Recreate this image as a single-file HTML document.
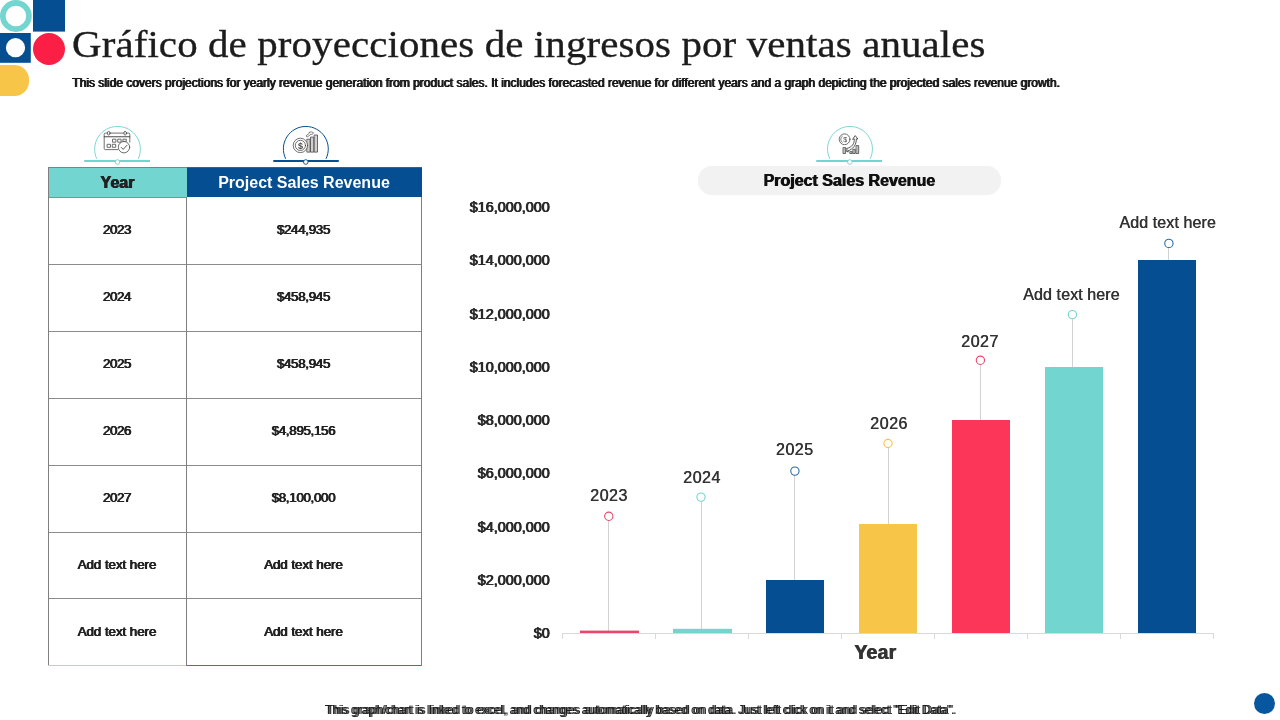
<!DOCTYPE html>
<html lang="es">
<head>
<meta charset="utf-8">
<title>Gráfico de proyecciones de ingresos por ventas anuales</title>
<style>
*{margin:0;padding:0;box-sizing:border-box}
html,body{width:1280px;height:720px;overflow:hidden;background:#fff}
body{position:relative;font-family:"Liberation Sans",sans-serif;color:#222}
.abs{position:absolute}
.t{position:absolute;white-space:nowrap;line-height:1}
#title{left:71.5px;top:26.2px;font-family:"Liberation Serif",serif;font-size:37.5px;color:#1c1c1c;letter-spacing:0.1px;transform-origin:0 0;transform:scaleX(1.091);-webkit-text-stroke:0.35px #1c1c1c}
#sub{left:71.8px;top:76.7px;font-size:12px;color:#1a1a1a;text-shadow:0.55px 0 0 #1a1a1a,1.1px 0 0 #1a1a1a;transform-origin:0 86%;transform:scaleY(1.07)}
#foot{left:324.8px;top:704px;font-size:12px;color:#1a1a1a;text-shadow:1.15px 0 0 #555,2.3px 0 0 #1a1a1a;transform-origin:0 86%;transform:scaleY(1.05)}
/* table */
.cell{position:absolute;text-align:center;white-space:nowrap;font-size:13.33px;line-height:1;color:#222;text-shadow:0.5px 0 0 #222,1px 0 0 #222;letter-spacing:-0.05px}
.num{letter-spacing:-0.45px}
.usd{letter-spacing:-0.3px}
.hl{position:absolute;height:1px;background:#8c8c8c}
.vl{position:absolute;width:1px;background:#7f7f7f}
/* chart */
.yl{position:absolute;text-align:right;white-space:nowrap;font-size:14.4px;line-height:1;color:#2a2a2a;width:100px;left:449.3px;text-shadow:0.9px 0 0 #2a2a2a,0.4px 0 0 #2a2a2a}
.bl{position:absolute;text-align:center;white-space:nowrap;font-size:16px;line-height:1;color:#333;width:140px;text-shadow:0.5px 0 0 #333;letter-spacing:0.1px}
.bn{letter-spacing:0.5px}
</style>
</head>
<body>
<!-- corner logo -->
<svg class="abs" style="left:0;top:0" width="70" height="100" viewBox="0 0 70 100">
  <circle cx="15.9" cy="16" r="13.1" fill="#fff" stroke="#72D5D0" stroke-width="5.6"/>
  <rect x="33" y="0" width="32" height="31.6" fill="#044E91"/>
  <rect x="0" y="33" width="30.8" height="29.8" fill="#044E91"/>
  <circle cx="15.5" cy="47.7" r="9.6" fill="#fff"/>
  <circle cx="49" cy="49" r="16" fill="#FB1F45"/>
  <path d="M0 65 H14.5 A14.5 14.5 0 0 1 29 79.5 V81.5 A14.5 14.5 0 0 1 14.5 96 H0 Z" fill="#F7C548"/>
</svg>

<div id="title" class="t">Gráfico de proyecciones de ingresos por ventas anuales</div>
<div id="sub" class="t">This slide covers projections for yearly revenue generation from product sales. It includes forecasted revenue for different years and a graph depicting the projected sales revenue growth.</div>

<!-- TABLE -->
<div class="abs" style="left:48px;top:167px;width:139px;height:31px;background:#72D5D0"></div>
<div class="abs" style="left:187px;top:167px;width:235px;height:30px;background:#044E91"></div>
<div class="t" style="left:48px;width:138px;top:174.5px;text-align:center;font-weight:bold;font-size:16px;color:#222;text-shadow:0.5px 0 0 #222,1px 0 0 #222">Year</div>
<div class="t" style="left:187px;width:234px;top:174.5px;text-align:center;font-weight:bold;font-size:16px;color:#fff">Project Sales Revenue</div>

<!-- grid lines -->
<div class="hl" style="left:48px;top:167px;width:139px;background:#6b8a8a"></div>
<div class="hl" style="left:187px;top:167px;width:235px;background:#3f5f80"></div>
<div class="hl" style="left:48px;top:197px;width:139px"></div>
<div class="hl" style="left:48px;top:264px;width:374px"></div>
<div class="hl" style="left:48px;top:331px;width:374px"></div>
<div class="hl" style="left:48px;top:398px;width:374px"></div>
<div class="hl" style="left:48px;top:465px;width:374px"></div>
<div class="hl" style="left:48px;top:532px;width:374px"></div>
<div class="hl" style="left:48px;top:598px;width:374px"></div>
<div class="hl" style="left:48px;top:665px;width:139px;background:#9fdedb"></div>
<div class="hl" style="left:186px;top:665px;width:236px;background:#3f74a8"></div>
<div class="vl" style="left:48px;top:167px;height:498px"></div>
<div class="vl" style="left:186px;top:197px;height:469px"></div>
<div class="vl" style="left:421px;top:197px;height:469px"></div>

<!-- table text -->
<div class="cell num" style="left:48px;width:137px;top:223.1px">2023</div>
<div class="cell num usd" style="left:186px;width:234px;top:223.1px">$244,935</div>
<div class="cell num" style="left:48px;width:137px;top:290.1px">2024</div>
<div class="cell num usd" style="left:186px;width:234px;top:290.1px">$458,945</div>
<div class="cell num" style="left:48px;width:137px;top:357.1px">2025</div>
<div class="cell num usd" style="left:186px;width:234px;top:357.1px">$458,945</div>
<div class="cell num" style="left:48px;width:137px;top:424.1px">2026</div>
<div class="cell num usd" style="left:186px;width:234px;top:424.1px">$4,895,156</div>
<div class="cell num" style="left:48px;width:137px;top:491.1px">2027</div>
<div class="cell num usd" style="left:186px;width:234px;top:491.1px">$8,100,000</div>
<div class="cell" style="left:48px;width:137px;top:557.5px">Add text here</div>
<div class="cell" style="left:186px;width:234px;top:557.5px">Add text here</div>
<div class="cell" style="left:48px;width:137px;top:624.6px">Add text here</div>
<div class="cell" style="left:186px;width:234px;top:624.6px">Add text here</div>

<!-- ICONS -->
<svg class="abs" style="left:70px;top:115px" width="100" height="60" viewBox="70 115 100 60" fill="none">
  <path d="M96.74 158.8 A22.85 22.85 0 1 1 138.26 158.8" stroke="#6fd0cb" stroke-width="0.9"/>
  <line x1="84.2" y1="160.9" x2="150" y2="160.9" stroke="#72D5D0" stroke-width="2"/>
  <circle cx="117.5" cy="162" r="2.3" fill="#fff" stroke="#72D5D0" stroke-width="0.9"/>
  <g stroke="#4a4a4a" stroke-width="0.8" fill="none" stroke-linecap="round" stroke-linejoin="round">
    <path d="M117.6 149.6 H105.4 A1.2 1.2 0 0 1 104.2 148.4 V134.3 A1.2 1.2 0 0 1 105.4 133.1 H107.4 M110.1 133.1 H123.8 M126.5 133.1 H128.6 A1.2 1.2 0 0 1 129.8 134.3 V142.2"/>
    <path d="M104.2 136.7 H129.8" stroke-width="1.1"/>
    <ellipse cx="108.75" cy="133.2" rx="1.3" ry="1.9"/>
    <ellipse cx="125.15" cy="133.2" rx="1.3" ry="1.9"/>
    <rect x="112.9" y="139.2" width="3" height="3"/>
    <rect x="118.1" y="139.2" width="3" height="3"/>
    <rect x="123.3" y="139.2" width="3" height="2.2"/>
    <rect x="107.5" y="144.3" width="3" height="3"/>
    <rect x="112.7" y="144.3" width="3" height="3"/>
    <circle cx="124" cy="147.2" r="5.7" fill="#fff"/>
    <path d="M121.2 147.4 L123.2 149.4 L127 145.2" stroke-width="0.9"/>
  </g>
</svg>
<svg class="abs" style="left:255px;top:115px" width="100" height="60" viewBox="255 115 100 60" fill="none">
  <path d="M285.68 158.8 A22.45 22.45 0 1 1 325.98 158.8" stroke="#044E91" stroke-width="1"/>
  <line x1="273.3" y1="160.9" x2="338.8" y2="160.9" stroke="#044E91" stroke-width="2"/>
  <circle cx="305.8" cy="162" r="2.3" fill="#fff" stroke="#044E91" stroke-width="0.9"/>
  <g stroke="#4a4a4a" stroke-width="0.8" fill="none" stroke-linecap="round" stroke-linejoin="round">
    <rect x="307.2" y="139.2" width="2.9" height="12.9" fill="#d4d0d0"/>
    <rect x="310.9" y="137.1" width="2.9" height="15" fill="#d4d0d0"/>
    <rect x="314.6" y="135" width="2.9" height="17.1" fill="#d4d0d0"/>
    <circle cx="300.4" cy="145.4" r="7.2" fill="#fff"/>
    <circle cx="300.4" cy="145.4" r="5.1"/>
    <path d="M306.3 135.6 L309.3 133.2 L309 132.3 L311.6 131.9 L313.6 132.8 L311.9 134.7 L311.3 134 L307.5 136.8 Z" stroke-width="0.7"/>
  </g>
  <text x="300.4" y="148.6" text-anchor="middle" font-family="Liberation Sans, sans-serif" font-size="9" font-weight="bold" fill="#4a4a4a">$</text>
</svg>
<svg class="abs" style="left:800px;top:115px" width="100" height="60" viewBox="800 115 100 60" fill="none">
  <path d="M829.85 158.8 A22.45 22.45 0 1 1 870.15 158.8" stroke="#6fd0cb" stroke-width="0.9"/>
  <line x1="816.2" y1="160.9" x2="882" y2="160.9" stroke="#72D5D0" stroke-width="2"/>
  <circle cx="849.8" cy="162" r="2.3" fill="#fff" stroke="#72D5D0" stroke-width="0.9"/>
  <g stroke="#4a4a4a" stroke-width="0.8" fill="none" stroke-linecap="round" stroke-linejoin="round">
    <circle cx="844.6" cy="139.3" r="5.4"/>
    <path d="M842.3 136.2 A3.6 3.6 0 0 0 842.3 142.4" stroke-width="0.7"/>
    <rect x="843.4" y="147.6" width="2.2" height="5.9" fill="#bdbdbd"/>
    <rect x="850.2" y="151.6" width="2" height="1.9" fill="#bdbdbd"/>
    <rect x="853.2" y="149.3" width="2" height="4.2" fill="#bdbdbd"/>
    <rect x="856.4" y="145.6" width="2.3" height="7.9" fill="#bdbdbd"/>
    <path d="M846.9 148.4 C852 147.5 854.6 143.5 854.3 138.9 L852.6 139.3 L855.2 135.6 L857.9 139 L856.3 138.9 C856.6 144.5 853 149.5 847.6 150.9 L848.4 151.9 L846.6 151.4 L847 149.4 Z" stroke-width="0.85" stroke="#3c3c3c"/>
  </g>
  <text x="845.1" y="141.9" text-anchor="middle" font-family="Liberation Sans, sans-serif" font-size="7" fill="#4a4a4a">$</text>
</svg>

<!-- CHART -->
<div class="abs" style="left:697.5px;top:165.5px;width:303.5px;height:29px;border-radius:14.5px;background:#F2F2F2;box-shadow:0 0 1px #F2F2F2"></div>
<div class="t" id="ctitle" style="left:697px;width:304px;top:172.5px;text-align:center;font-weight:bold;font-size:16px;color:#111;text-shadow:0.9px 0 0 #111">Project Sales Revenue</div>

<div class="yl" style="top:199.9px">$16,000,000</div>
<div class="yl" style="top:253.2px">$14,000,000</div>
<div class="yl" style="top:306.5px">$12,000,000</div>
<div class="yl" style="top:359.8px">$10,000,000</div>
<div class="yl" style="top:413.1px">$8,000,000</div>
<div class="yl" style="top:466.4px">$6,000,000</div>
<div class="yl" style="top:519.7px">$4,000,000</div>
<div class="yl" style="top:573px">$2,000,000</div>
<div class="yl" style="top:626.3px">$0</div>

<svg class="abs" style="left:540px;top:190px" width="700" height="460" viewBox="540 190 700 460">
  <!-- leader lines -->
  <g stroke="#d2d2d2" stroke-width="1">
    <line x1="608.5" y1="520" x2="608.5" y2="631"/>
    <line x1="701.5" y1="501" x2="701.5" y2="629"/>
    <line x1="794.5" y1="475" x2="794.5" y2="580"/>
    <line x1="888.5" y1="447" x2="888.5" y2="524"/>
    <line x1="980.5" y1="364" x2="980.5" y2="420"/>
    <line x1="1072.5" y1="318" x2="1072.5" y2="367"/>
    <line x1="1168.5" y1="247" x2="1168.5" y2="260"/>
  </g>
  <!-- axis -->
  <g stroke="#d9d9d9" stroke-width="1">
    <line x1="562" y1="633.5" x2="1214" y2="633.5"/>
    <line x1="562.5" y1="633" x2="562.5" y2="639"/>
    <line x1="655.5" y1="633" x2="655.5" y2="639"/>
    <line x1="748.5" y1="633" x2="748.5" y2="639"/>
    <line x1="841.5" y1="633" x2="841.5" y2="639"/>
    <line x1="934.5" y1="633" x2="934.5" y2="639"/>
    <line x1="1027.5" y1="633" x2="1027.5" y2="639"/>
    <line x1="1120.5" y1="633" x2="1120.5" y2="639"/>
    <line x1="1213.5" y1="633" x2="1213.5" y2="639"/>
  </g>
  <!-- bars -->
  <rect x="580" y="630.6" width="59" height="2.4" fill="#E8466A"/>
  <rect x="673" y="628.8" width="59" height="4.2" fill="#72D5D0"/>
  <rect x="766" y="580" width="58" height="53" fill="#044E91"/>
  <rect x="859" y="524" width="58" height="109" fill="#F7C548"/>
  <rect x="952" y="420" width="58" height="213" fill="#FB3659"/>
  <rect x="1045" y="367" width="58" height="266" fill="#72D5D0"/>
  <rect x="1138" y="260" width="58" height="373" fill="#044E91"/>
  <!-- markers -->
  <g fill="#fff" stroke-width="1.1">
    <circle cx="608.8" cy="516.3" r="4.15" stroke="#E8466A"/>
    <circle cx="701" cy="497.1" r="4.15" stroke="#72D5D0"/>
    <circle cx="794.9" cy="471.1" r="4.15" stroke="#2C6CA8"/>
    <circle cx="888" cy="443.5" r="4.15" stroke="#F7C548"/>
    <circle cx="980.4" cy="360.3" r="4.15" stroke="#E8466A"/>
    <circle cx="1072.4" cy="314.6" r="4.15" stroke="#72D5D0"/>
    <circle cx="1168.9" cy="243.4" r="4.15" stroke="#2C6CA8"/>
  </g>
</svg>

<div class="bl bn" style="left:538.8px;top:487.8px">2023</div>
<div class="bl bn" style="left:631.8px;top:469.8px">2024</div>
<div class="bl bn" style="left:724.6px;top:442.3px">2025</div>
<div class="bl bn" style="left:818.9px;top:415.8px">2026</div>
<div class="bl bn" style="left:909.8px;top:333.8px">2027</div>
<div class="bl" style="left:1001.3px;top:287.3px">Add text here</div>
<div class="bl" style="left:1097.5px;top:215.3px">Add text here</div>

<div class="t" id="ytitle" style="left:805px;width:140px;top:642.6px;text-align:center;font-weight:bold;font-size:19.5px;letter-spacing:0.2px;color:#333;text-shadow:0.9px 0 0 #333">Year</div>

<div id="foot" class="t">This graph/chart is linked to excel, and changes automatically based on data. Just left click on it and select "Edit Data".</div>
<div class="abs" style="left:1254px;top:693px;width:21px;height:21px;border-radius:50%;background:#0757A0"></div>
</body>
</html>
